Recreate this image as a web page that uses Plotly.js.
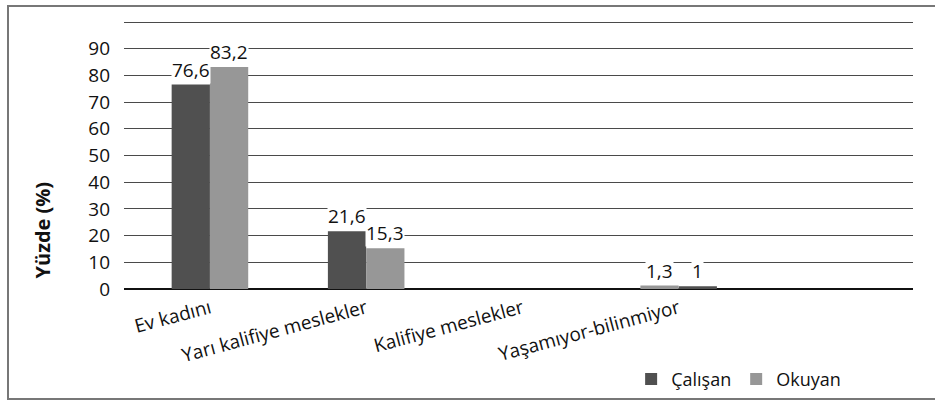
<!DOCTYPE html>
<html>
<head>
<meta charset="utf-8">
<script src="https://cdn.plot.ly/plotly-3.0.1.min.js"></script>
<style>
  html, body { margin: 0; padding: 0; background: #fff; }
  #chart { width: 935px; height: 400px; }
  #frame { position: absolute; left: 7px; top: 5px; width: 960px; height: 391px;
           border: 2px solid #777; pointer-events: none; }
</style>
</head>
<body>
<div id="chart"></div>
<div id="frame"></div>
<script>
const categories = ["Ev kadını", "Yarı kalifiye meslekler", "Kalifiye meslekler", "Yaşamıyor-bilinmiyor"];
const calisan = [76.6, 21.6, null, 1];
const okuyan = [83.2, 15.3, null, 1.3];
const seriesNames = ["Çalışan", "Okuyan"];
const yTickVals = [0, 10, 20, 30, 40, 50, 60, 70, 80, 90, 100];
const yTickText = ["0", "10", "20", "30", "40", "50", "60", "70", "80", "90", ""];

const FONT = "Open Sans, Noto Sans, sans-serif";
const FS = 19;
const BW = 0.245;
const xIdx = categories.map((_, i) => i);
// per-point bar offsets (the last group is drawn with the light bar first)
const offDark = [-BW, -BW, -BW, 0];
const offLight = [0, 0, 0, -BW];

const traces = [
  { type: "bar", name: seriesNames[0], x: xIdx, y: calisan, width: BW, offset: offDark,
    marker: { color: "#505050" }, hoverinfo: "skip" },
  { type: "bar", name: seriesNames[1], x: xIdx, y: okuyan, width: BW, offset: offLight,
    marker: { color: "#979797" }, hoverinfo: "skip" }
];

const annotations = [];
function addLabels(vals, offs) {
  vals.forEach((v, i) => {
    if (v === null) return;
    annotations.push({
      x: i + offs[i] + BW / 2, y: v, xref: "x", yref: "y",
      text: String(v).replace(".", ","), showarrow: false,
      yanchor: "bottom", yshift: 1, bgcolor: "#ffffff", borderpad: 0,
      font: { family: FONT, size: FS, color: "#111" }
    });
  });
}
addLabels(calisan, offDark);
addLabels(okuyan, offLight);
annotations.push({
  text: "<b>Yüzde (%)</b>", xref: "paper", yref: "paper", x: -0.1027, y: 0.222,
  xanchor: "center", yanchor: "middle", textangle: -90, showarrow: false,
  font: { family: FONT, size: 20, color: "#111" }
});

const layout = {
  width: 935, height: 400,
  margin: { l: 124, r: 22, t: 21, b: 111, autoexpand: false },
  paper_bgcolor: "#ffffff", plot_bgcolor: "#ffffff",
  separators: ", ",
  font: { family: FONT, size: FS, color: "#111" },
  barmode: "group",
  showlegend: true,
  legend: { orientation: "h", xref: "container", yref: "container", x: 0.675, xanchor: "left",
            y: 0.052, yanchor: "middle",
            font: { family: FONT, size: 18, color: "#111" }, itemwidth: 30, tracegroupgap: 0 },
  xaxis: {
    type: "linear", range: [-0.55, 4.5], tickmode: "array", tickvals: xIdx, ticktext: categories,
    tickangle: -15, showgrid: false, zeroline: false, showline: false, ticks: "",
    automargin: false, ticklabelstandoff: 4,
    tickfont: { family: FONT, size: FS, color: "#111" }, fixedrange: true
  },
  yaxis: {
    range: [0, 100.4], tickmode: "array", tickvals: yTickVals, ticktext: yTickText,
    showgrid: true, gridcolor: "#4a4a4a", gridwidth: 1, zeroline: true, zerolinecolor: "#111",
    zerolinewidth: 1.5, showline: false, ticks: "", ticklabelstandoff: 13, automargin: false,
    tickfont: { family: FONT, size: FS, color: "#111" }, fixedrange: true
  },
  annotations: annotations
};

Plotly.newPlot("chart", traces, layout, { displayModeBar: false, staticPlot: true });
</script>
</body>
</html>
